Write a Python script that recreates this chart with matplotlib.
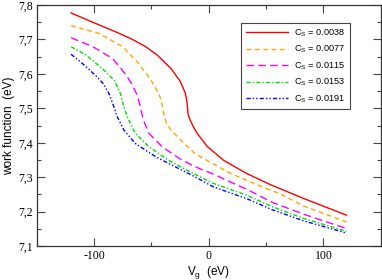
import matplotlib
matplotlib.use("Agg")
import matplotlib.pyplot as plt
from matplotlib.ticker import MultipleLocator, FuncFormatter

labels = ["C$_\\mathregular{S}$ = 0.0038", "C$_\\mathregular{S}$ = 0.0077", "C$_\\mathregular{S}$ = 0.0115",
          "C$_\\mathregular{S}$ = 0.0153", "C$_\\mathregular{S}$ = 0.0191"]
colors = ["#ff0000", "#ffa500", "#ff00ff", "#00dd00", "#0000ff"]

red_x = [-120, -99, -81, -67, -55, -45, -33, -25, -20.5, -19, -18.5, -18, -16, -13, -10, -1.5, 13, 33, 54, 83, 120]
red_y = [7.777, 7.747, 7.722, 7.701, 7.679, 7.655, 7.616, 7.579, 7.545, 7.52, 7.50, 7.482, 7.464, 7.444, 7.427, 7.39, 7.349, 7.311, 7.278, 7.238, 7.19]

orange_x = [-120, -96, -75, -61, -51, -47, -42, -40.5, -39.5, -37, -33, -22, -13, -7, 19, 48, 62, 83, 120]
orange_y = [7.74, 7.718, 7.679, 7.63, 7.585, 7.563, 7.53, 7.51, 7.487, 7.458, 7.437, 7.400, 7.372, 7.359, 7.311, 7.27, 7.252, 7.216, 7.17]

magenta_x = [-120, -101, -84, -72, -67, -63, -60, -58, -56, -52, -40.5, -24, -11.6, 4, 33, 56, 85, 120]
magenta_y = [7.705, 7.679, 7.645, 7.597, 7.57, 7.543, 7.51, 7.48, 7.458, 7.427, 7.388, 7.351, 7.33, 7.309, 7.265, 7.226, 7.19, 7.151]

green_x = [-120, -107, -93, -82, -77, -74, -71, -64, -52, -35, -24.6, -14.5, 4, 33, 55, 83, 120]
green_y = [7.679, 7.655, 7.616, 7.58, 7.543, 7.504, 7.475, 7.427, 7.388, 7.349, 7.33, 7.313, 7.282, 7.248, 7.215, 7.18, 7.143]

blue_x = [-120, -110, -98.5, -92, -87, -82.6, -79.7, -74, -64, -46, -29, -13, 4, 33, 55, 83, 120]
blue_y = [7.657, 7.63, 7.595, 7.572, 7.543, 7.504, 7.475, 7.437, 7.398, 7.359, 7.33, 7.303, 7.272, 7.238, 7.206, 7.173, 7.138]

series = [(red_x, red_y), (orange_x, orange_y), (magenta_x, magenta_y), (green_x, green_y), (blue_x, blue_y)]
styles = ["-", (0, (3.5, 2.5)), (0, (5.5, 3)), (0, (3, 1.5, 1, 1.5)), (0, (3, 1.5, 1, 1.5, 1, 1.5))]

fig = plt.figure(figsize=(3.82, 2.8), dpi=100)
ax = fig.add_axes([0.096, 0.121, 0.901, 0.861])

for (xs, ys), c, ls, lab in zip(series, colors, styles, labels):
    ax.plot(xs, ys, color=c, linestyle=ls, linewidth=1.0, label=lab)

ax.set_xlim(-150, 150)
ax.set_ylim(7.1, 7.8)
ax.xaxis.set_major_locator(MultipleLocator(100))
ax.xaxis.set_minor_locator(MultipleLocator(50))
ax.yaxis.set_major_locator(MultipleLocator(0.1))
ax.yaxis.set_minor_locator(MultipleLocator(0.05))
ax.yaxis.set_major_formatter(FuncFormatter(lambda v, p: f"{v:.1f}".replace(".", ",")))
ax.xaxis.set_major_formatter(FuncFormatter(lambda v, p: f"{int(round(v))}"))

ax.tick_params(which="both", direction="in", top=True, right=True, width=0.8, color="#444444")
ax.tick_params(which="major", length=6, labelsize=8.5, pad=3)
ax.tick_params(which="minor", length=3)
for lbl in ax.get_xticklabels() + ax.get_yticklabels():
    lbl.set_family("Liberation Serif")
for s in ax.spines.values():
    s.set_linewidth(0.9)
    s.set_color("#333333")

ax.set_xlabel("V$_\\mathregular{g}$  (eV)", fontsize=8.5, family="Liberation Sans", labelpad=1)
ax.set_ylabel("work function  (eV)", fontsize=8.5, family="Liberation Sans", labelpad=2)

leg = ax.legend(loc="upper right", bbox_to_anchor=(0.91, 0.927), borderaxespad=0,
                fancybox=False, framealpha=1,
                edgecolor="#444444", prop={"family": "Liberation Sans", "size": 6.6},
                handlelength=4.6, handletextpad=0.7, borderpad=0.5, labelspacing=0.55)
leg.get_frame().set_linewidth(0.8)

fig.savefig("out.png", dpi=100)
